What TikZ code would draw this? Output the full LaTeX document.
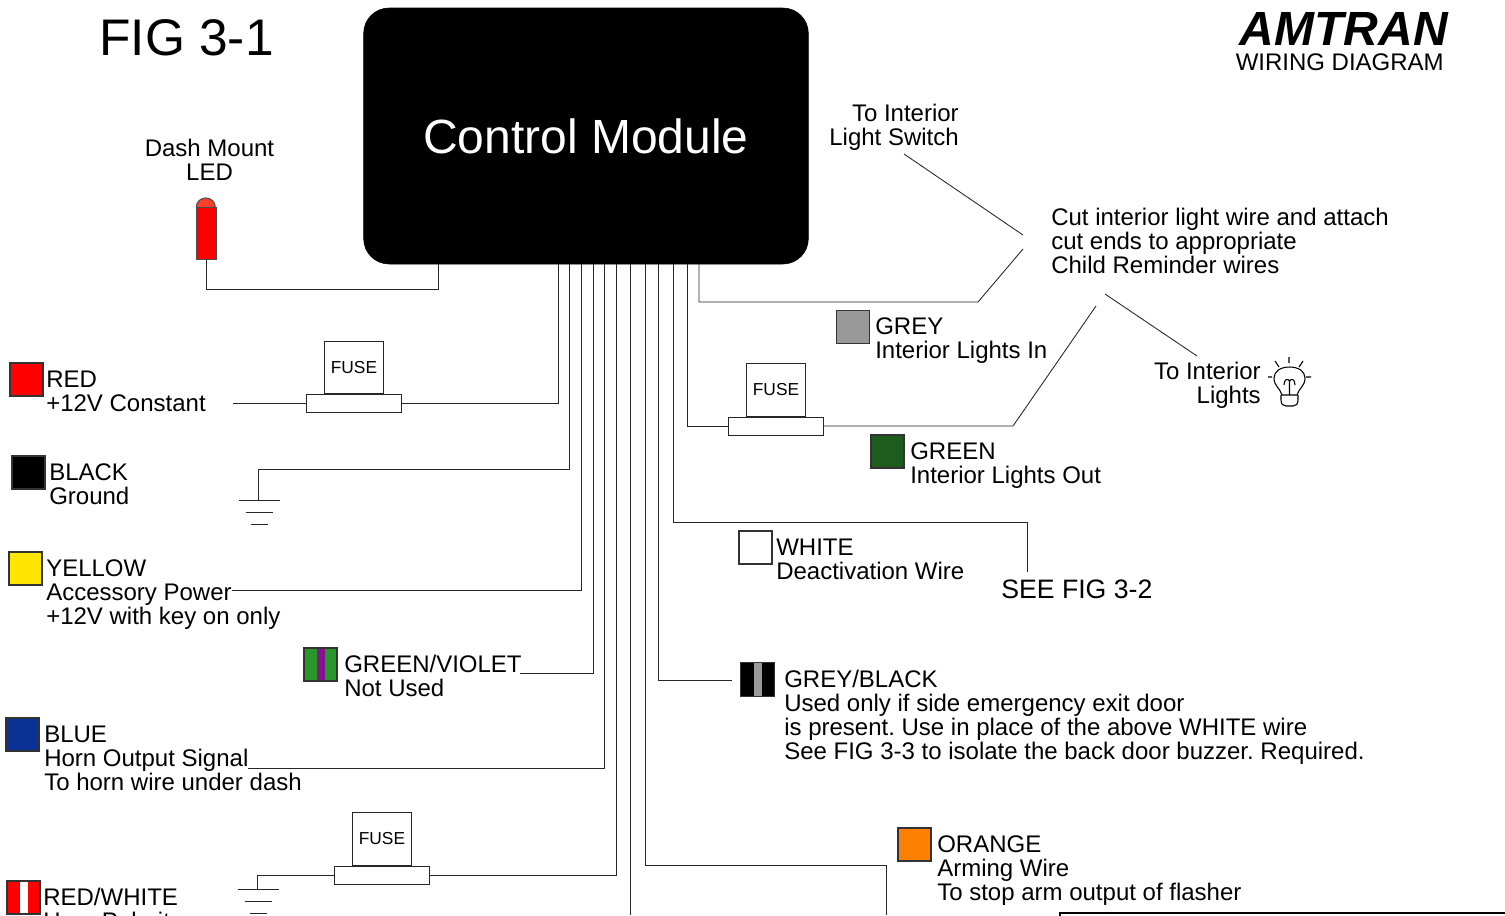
\documentclass[tikz,border=0pt]{standalone}
\usepackage{fontspec}
\setmainfont{Liberation Sans}
\usetikzlibrary{positioning}
\frenchspacing
\definecolor{ledtop}{RGB}{255,64,40}
\definecolor{wgreen}{RGB}{30,92,30}
\definecolor{gvgreen}{RGB}{40,150,40}
\definecolor{gvviolet}{RGB}{130,20,140}
\definecolor{wblue}{RGB}{10,50,150}
\definecolor{wgrey}{RGB}{153,153,153}
\definecolor{worange}{RGB}{255,128,0}
\definecolor{wyellow}{RGB}{255,230,0}
\tikzset
{
  wire/.style     = {draw=black!85, line width=0.65pt},
  swatch/.style   = {draw=black!80, line width=0.9pt, minimum size=24.8pt, inner sep=0pt},
  stripe/.style   = {path picture={\fill[#1] ([xshift=-3pt]path picture bounding box.south) rectangle ([xshift=3pt]path picture bounding box.north);}},
  wirelabel/.style = {anchor=north west, inner sep=0pt, align=left, font=\fontsize{18}{18}\selectfont},
  sidelabel/.style = {anchor=north east, inner sep=0pt, align=right, font=\fontsize{18}{18}\selectfont},
  fusebody/.style = {draw=black!85, line width=0.65pt, minimum width=71pt, minimum height=13.5pt, inner sep=0pt},
  fusecap/.style  = {draw=black!85, line width=0.65pt, minimum width=44.5pt, minimum height=39.5pt, inner sep=0pt, font=\fontsize{13}{13}\selectfont},
  gnd/.pic = {
    \draw[wire] (-20.5,0) -- (20.5,0);
    \draw[wire] (-13.5,12.5) -- (13.5,12.5);
    \draw[wire] (-8.5,24.5) -- (8.5,24.5);
  }
}

\begin{document}
\begin{tikzpicture}[x=0.75pt,y=-0.75pt]
  \clip (0,0) rectangle (1505,915);

  % titles
  \node [anchor=base west, inner sep=0pt, font=\fontsize{38.6}{38.6}\selectfont] (figtitle) at (99,55.5) {FIG 3-1};
  \node [anchor=base east, inner sep=0pt, font=\fontsize{36}{36}\bfseries\itshape\selectfont] (amtran) at (1448,45) {AMTRAN};
  \node [anchor=base east, inner sep=0pt, font=\fontsize{18}{18}\selectfont] (subtitle) at (1444,70) {WIRING DIAGRAM};

  % control module
  \node [fill=black, draw=black, rounded corners=19pt, minimum width=333.5pt, minimum height=192pt, inner sep=0pt,
         text=white, font=\fontsize{36}{36}\selectfont] (module) at (586,136) {Control Module};

  % wire stubs along the bottom of the module
  \foreach \name/\x in {wa/558,wb/569,wc/581,wd/593,we/604,wf/616,wg/630,wh/645,wi/658,wj/673,wk/687.5,wl/699}
    \coordinate (\name) at (\x,264);
  \coordinate (ledwire) at (438,264);

  % LED
  \node [draw=black!70, fill=red, line width=0.8pt, minimum width=14.5pt, minimum height=39pt, inner sep=0pt] (led) at (206.5,233.5) {};
  \fill [ledtop] (led.north west) arc[start angle=180, end angle=360, x radius=9.5, y radius=9];
  \draw [black!70, line width=0.8pt] (led.north west) arc[start angle=180, end angle=360, x radius=9.5, y radius=9];
  \node [anchor=north, inner sep=0pt, align=center, font=\fontsize{18}{18}\selectfont] (ledtext) at (209.5,139) {Dash Mount\\LED};
  \draw [wire] (led.south) |- (438,289) -- (ledwire);

  % left hand wires
  \node [swatch, fill=red] (redbox) at (26.5,379.5) {};
  \node [wirelabel] (redtext) at (46,371) {RED\\+12V Constant};
  \node [fusebody] (fuseone) at (354,403.5) {};
  \node [fusecap, above=0pt of fuseone] (fuseonecap) {\raisebox{-2pt}{FUSE}};
  \coordinate (redend) at (233,403.5);
  \draw [wire] (wa) |- (fuseone.east);
  \draw [wire] (fuseone.west) -- (redend);

  \node [swatch, fill=black] (blackbox) at (28.5,472.5) {};
  \node [wirelabel] (blacktext) at (49,463) {BLACK\\Ground};
  \coordinate (gndone) at (258,500);
  \draw [wire] (wb) |- (258,469) -- (gndone);
  \pic at ([xshift=0.75pt]gndone) {gnd};

  \node [swatch, fill=wyellow] (yellowbox) at (25.5,568.5) {};
  \node [wirelabel] (yellowtext) at (46,559) {YELLOW\\Accessory Power\\+12V with key on only};
  \coordinate (yellowend) at (232,590);
  \draw [wire] (wc) |- (yellowend);

  \node [swatch, fill=gvgreen, stripe=gvviolet] (gvbox) at (320.5,664.5) {};
  \node [wirelabel] (gvtext) at (344,655) {GREEN/VIOLET\\Not Used};
  \coordinate (gvend) at (520,673);
  \draw [wire] (wd) |- (gvend);

  \node [swatch, fill=wblue] (bluebox) at (22.5,734.5) {};
  \node [wirelabel] (bluetext) at (44,726) {BLUE\\Horn Output Signal\\To horn wire under dash};
  \coordinate (blueend) at (248,768);
  \draw [wire] (we) |- (blueend);

  \node [swatch, fill=red, stripe=white] (rwbox) at (23.5,897.5) {};
  \node [wirelabel] (rwtext) at (43,888) {RED/WHITE\\Horn Polarity};
  \node [fusebody] (fusetwo) at (382,875) {};
  \node [fusecap, above=0pt of fusetwo] (fusetwocap) {\raisebox{-2pt}{FUSE}};
  \coordinate (gndtwo) at (257,889);
  \draw [wire] (wf) |- (fusetwo.east);
  \draw [wire] (fusetwo.west) -| (gndtwo);
  \pic at ([xshift=0.75pt]gndtwo) {gnd};

  % right hand wires
  \coordinate (cutin) at (1023,249);
  \coordinate (cutinb) at (1023,235);
  \coordinate (switchend) at (904,154);
  \coordinate (cutout) at (1096,306);
  \coordinate (lightsa) at (1105,294);
  \coordinate (lightsb) at (1197,356);
  \node [swatch, fill=wgrey] (greybox) at (853,327) {};
  \node [wirelabel] (greytext) at (875,317) {GREY\\Interior Lights In};
  \draw [wire] (wl) |- (978,302) -- (cutin);
  \draw [wire] (switchend) -- (cutinb);
  \draw [wire] (lightsa) -- (lightsb);
  \node [sidelabel] (switchtext) at (959,104) {To Interior\\Light Switch};
  \node [wirelabel] (cuttext) at (1051,208) {Cut interior light wire and attach\\cut ends to appropriate\\Child Reminder wires};

  \node [fusebody] (fusethree) at (776,426) {};
  \node [fusecap, above=0pt of fusethree] (fusethreecap) {\raisebox{-2pt}{FUSE}};
  \node [swatch, fill=wgreen] (greenbox) at (887.5,451.5) {};
  \node [wirelabel] (greentext) at (910,442) {GREEN\\Interior Lights Out};
  \draw [wire] (wk) |- (fusethree.west);
  \draw [wire] (fusethree.east) -- (1013,426) -- (cutout);

  \node [swatch, fill=white] (whitebox) at (755.5,547.5) {};
  \node [wirelabel] (whitetext) at (776,539) {WHITE\\Deactivation Wire};
  \node [anchor=base west, inner sep=0pt, font=\fontsize{20}{20}\selectfont] (seefig) at (1001,598) {SEE FIG 3-2};
  \coordinate (whiteend) at (1027,572);
  \draw [wire] (wj) |- (1027,522) -- (whiteend);

  \node [swatch, fill=black, stripe=wgrey, minimum size=26pt] (gbbox) at (757.5,679.5) {};
  \node [wirelabel] (gbtext) at (784,670) {GREY/BLACK\\Used only if side emergency exit door\\is present. Use in place of the above WHITE wire\\See FIG 3-3 to isolate the back door buzzer. Required.};
  \coordinate (gbend) at (732,680);
  \draw [wire] (wi) |- (gbend);

  \node [swatch, fill=worange] (orangebox) at (914.5,844.5) {};
  \node [wirelabel] (orangetext) at (937,835) {ORANGE\\Arming Wire\\To stop arm output of flasher};
  \coordinate (orangeend) at (886,915);
  \draw [wire] (wh) |- (886,865) -- (orangeend);

  \coordinate (plainend) at (630,915);
  \draw [wire] (wg) -- (plainend);

  % interior lights
  \node [sidelabel] (lightstext) at (1261,362) {To Interior\\Lights};
  \draw [line width=0.8pt] (1282,395) .. controls (1280,388) and (1274,386) .. (1274,378)
    .. controls (1274,371) and (1281,367) .. (1289.5,367)
    .. controls (1298,367) and (1305,371) .. (1305,378)
    .. controls (1305,386) and (1299,388) .. (1297,395) -- cycle;
  \draw [line width=0.8pt] (1281,395) -- (1281,400) .. controls (1281,404) and (1283,406) .. (1286,406)
    -- (1293,406) .. controls (1296,406) and (1298,404) .. (1298,400) -- (1298,395);
  \draw [line width=0.8pt] (1289.5,395) -- (1289.5,380)
    (1284,385) .. controls (1284,379) and (1288,378) .. (1289.5,381)
    .. controls (1291,378) and (1295,379) .. (1295,385);
  \draw [line width=0.8pt] (1289,357) -- (1289,363) (1275,361) -- (1279,367) (1303,361) -- (1299,367)
    (1268,377) -- (1272,377) (1306,377) -- (1311,377);

  % box cut off by the page
  \draw [line width=1.6pt] (1060,913) rectangle (1530,960);
\end{tikzpicture}
\end{document}
